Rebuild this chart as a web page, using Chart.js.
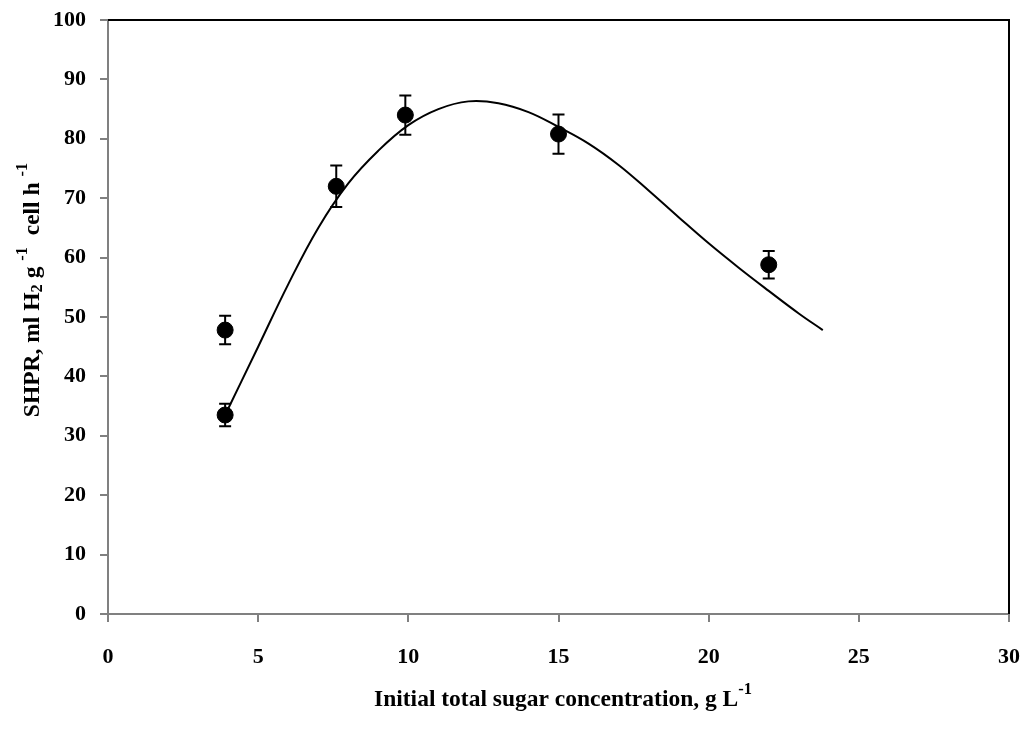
<!DOCTYPE html>
<html>
<head>
<meta charset="utf-8">
<script src="https://cdn.jsdelivr.net/npm/chart.js@4/dist/chart.umd.min.js"></script>
<style>
  html, body { margin: 0; padding: 0; background: #fff; }
  #wrap { width: 1029px; height: 729px; }
</style>
</head>
<body>
<div id="wrap"><canvas id="chart" width="1029" height="729"></canvas></div>
<script>
// measured points (x = sugar g/L, y = SHPR) and their error half-widths
const pointX = [3.9, 3.9, 7.6, 9.9, 15.0, 22.0];
const pointY = [33.5, 47.8, 72.0, 84.0, 80.8, 58.8];
const pointErr = [1.9, 2.4, 3.5, 3.3, 3.3, 2.3];

// fitted curve
const curveX = [3.9, 5, 6, 7, 8, 9, 10, 11, 12, 13, 14, 15, 16, 17, 18, 19, 20, 21, 22, 23, 23.8];
const curveY = [33.5, 45, 55.5, 65, 72.5, 78, 82.3, 85, 86.3, 86, 84.5, 82, 79.2, 75.6, 71.3, 66.8, 62.4, 58.3, 54.4, 50.6, 47.8];

const xTitle = [{ t: 'Initial total sugar concentration, g L' }, { t: '-1', sup: true }];
const yTitle = [
  { t: 'SHPR, ml H' }, { t: '2', sub: true }, { t: ' g ' }, { t: '-1', sup: true },
  { t: '  cell h ' }, { t: '-1', sup: true }
];

const FONT = '"Liberation Serif", "Times New Roman", serif';

function drawRich(ctx, parts, size) {
  let w = 0;
  parts.forEach(p => {
    ctx.font = 'bold ' + (p.sup || p.sub ? size * 0.7 : size) + 'px ' + FONT;
    p.w = ctx.measureText(p.t).width;
    w += p.w;
  });
  let x = -w / 2;
  parts.forEach(p => {
    ctx.font = 'bold ' + (p.sup || p.sub ? size * 0.7 : size) + 'px ' + FONT;
    let dy = 0;
    if (p.sup) dy = -size * 0.42;
    if (p.sub) dy = size * 0.2;
    ctx.fillText(p.t, x, dy);
    x += p.w;
  });
}

const extras = {
  id: 'extras',
  afterDatasetsDraw(chart) {
    const ctx = chart.ctx;
    const xs = chart.scales.x, ys = chart.scales.y;
    const a = chart.chartArea;
    ctx.save();
    // error bars
    ctx.strokeStyle = '#000';
    ctx.lineWidth = 2;
    pointX.forEach((v, i) => {
      const px = xs.getPixelForValue(v);
      const top = ys.getPixelForValue(pointY[i] + pointErr[i]);
      const bot = ys.getPixelForValue(pointY[i] - pointErr[i]);
      ctx.beginPath();
      ctx.moveTo(px, top); ctx.lineTo(px, bot);
      ctx.moveTo(px - 6, top); ctx.lineTo(px + 6, top);
      ctx.moveTo(px - 6, bot); ctx.lineTo(px + 6, bot);
      ctx.stroke();
    });
    // top and right frame
    ctx.beginPath();
    ctx.moveTo(a.left, a.top); ctx.lineTo(a.right, a.top); ctx.lineTo(a.right, a.bottom);
    ctx.stroke();
    // axis titles
    ctx.fillStyle = '#000';
    ctx.textBaseline = 'middle';
    ctx.textAlign = 'left';
    ctx.save();
    ctx.translate(563, 700);
    drawRich(ctx, xTitle, 23.5);
    ctx.restore();
    ctx.save();
    ctx.translate(33, 290);
    ctx.rotate(-Math.PI / 2);
    drawRich(ctx, yTitle, 23.5);
    ctx.restore();
    ctx.restore();
  }
};

new Chart(document.getElementById('chart'), {
  type: 'scatter',
  data: {
    datasets: [
      {
        data: curveX.map((x, i) => ({ x: x, y: curveY[i] })),
        showLine: true,
        borderColor: '#000',
        borderWidth: 2,
        pointRadius: 0,
        tension: 0.4,
        order: 2
      },
      {
        data: pointX.map((x, i) => ({ x: x, y: pointY[i] })),
        backgroundColor: '#000',
        borderColor: '#000',
        pointRadius: 8,
        pointHoverRadius: 8,
        order: 1
      }
    ]
  },
  options: {
    responsive: false,
    animation: false,
    events: [],
    layout: { padding: { top: 20, right: 20, left: 0, bottom: 0 } },
    plugins: { legend: { display: false }, tooltip: { enabled: false } },
    scales: {
      x: {
        type: 'linear', min: 0, max: 30,
        afterFit: s => { s.height = 115; s.paddingLeft = 0; s.paddingRight = 0; },
        border: { color: '#808080', width: 2 },
        grid: { drawOnChartArea: false, color: '#808080', tickLength: 8, lineWidth: 2 },
        ticks: { stepSize: 5, padding: 22, color: '#000', font: { family: FONT, size: 22, weight: 'bold' } }
      },
      y: {
        type: 'linear', min: 0, max: 100,
        afterFit: s => { s.width = 108; s.paddingTop = 0; s.paddingBottom = 0; },
        border: { color: '#808080', width: 2 },
        grid: { drawOnChartArea: false, color: '#808080', tickLength: 8, lineWidth: 2 },
        ticks: { stepSize: 10, padding: 14, color: '#000', font: { family: FONT, size: 22, weight: 'bold' } }
      }
    }
  },
  plugins: [extras]
});
</script>
</body>
</html>
